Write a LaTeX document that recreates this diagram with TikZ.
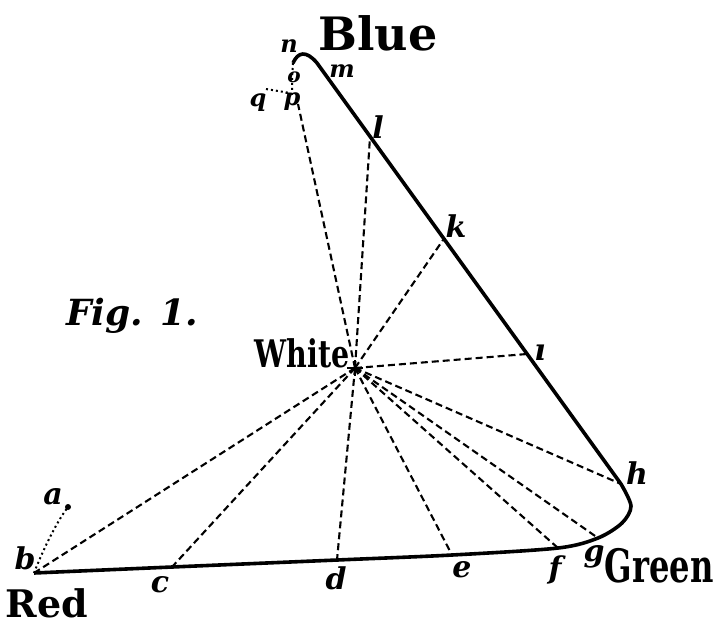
\documentclass[tikz,border=0pt]{standalone}
\usepackage{fontspec}
\setmainfont{DejaVu Serif}
\begin{document}
\begin{tikzpicture}[x=1pt,y=-1pt,
  ray/.style={line width=2.1pt, dash pattern=on 7pt off 4pt},
  locus/.style={line width=3.6pt, line join=round},
  dots/.style={line width=2pt, dash pattern=on 2pt off 3pt},
  lab/.style={font=\fontsize{30}{30}\selectfont\bfseries\itshape, inner sep=0pt},
  sml/.style={font=\fontsize{24}{24}\selectfont\bfseries\itshape, inner sep=0pt},
  big/.style={font=\fontsize{46}{46}\selectfont\bfseries, inner sep=0pt},
  mid/.style={font=\fontsize{38}{38}\selectfont\bfseries, inner sep=0pt}]
\useasboundingbox (0,0) rectangle (714,630);
% points
\coordinate (W) at (355,368);
\coordinate (a) at (68,507);
\coordinate (b) at (34,573);
\coordinate (c) at (172,567);
\coordinate (d) at (337,560);
\coordinate (e) at (452,555);
\coordinate (f) at (558,548);
\coordinate (g) at (598,538);
\coordinate (h) at (621,484);
\coordinate (i) at (527,354);
\coordinate (k) at (443,240);
\coordinate (l) at (370,137);
\coordinate (top) at (317,63);
\coordinate (n) at (293,63);
\coordinate (o) at (292,78);
\coordinate (p) at (298,104);
\coordinate (q) at (266,89);
% locus
\draw[locus] plot[smooth, tension=0.5] coordinates {(b) (c) (d) (e) (f) (g) (622,523) (631,506) (h)}
  -- (top) .. controls (306,50) and (298,52) .. (n);
\draw[dots] (n) -- (o) -- (292,95);
\draw[dots] (q) -- (290,93);
\draw[dots] (b) .. controls (45,545) and (58,520) .. (a);
\fill (a) circle (3pt);
% rays
\foreach \t in {b,c,d,e,f,g,h,i,k,l,p} \draw[ray] (W) -- (\t);
\draw[line width=2pt] (347,368) -- (363,368) (355,360) -- (355,376);
% labels
\node[big] (Blue) at (378,33) {Blue};
\node[mid] (Red) at (47,603) {Red};
\node[big, xscale=0.7] (Green) at (659,566) {Green};
\node[mid, xscale=0.75] (White) at (302,353) {White};
\node[mid, font=\fontsize{36}{36}\selectfont\bfseries\itshape] (Fig) at (132,316) {Fig. 1.};
\node[lab] (la) at (53,497) {a};
\node[lab] (lb) at (25,558) {b};
\node[lab] (lc) at (160,585) {c};
\node[lab] (ld) at (336,578) {d};
\node[lab] (le) at (462,570) {e};
\node[lab] (lf) at (555,570) {f};
\node[lab] (lg) at (594,557) {g};
\node[lab] (lh) at (637,473) {h};
\node[lab] (li) at (540,353) {ı};
\node[lab] (lk) at (456,226) {k};
\node[lab] (ll) at (378,127) {l};
\node[sml] (lm) at (342,71) {m};
\node[sml] (ln) at (289,46) {n};
\node[sml, font=\fontsize{20}{20}\selectfont\bfseries\itshape] (lo) at (294,77) {o};
\node[sml] (lp) at (292,102) {p};
\node[sml] (lq) at (258,103) {q};
\end{tikzpicture}
\end{document}
